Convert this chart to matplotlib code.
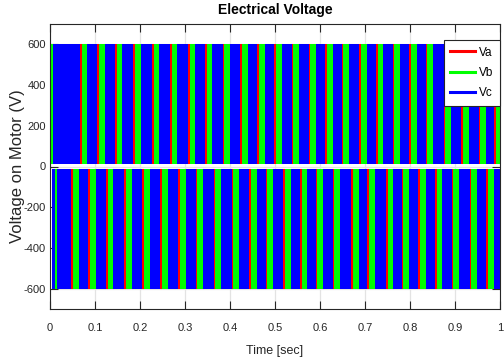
import numpy as np
import matplotlib
matplotlib.use("Agg")
import matplotlib.pyplot as plt
from matplotlib.lines import Line2D

# ── Data ──────────────────────────────────────────────────────────────────────
t_range = (0.0, 1.0)          # simulated time span [sec]
v_peak = 600                  # inverter voltage level [V]
v_gap = 10                    # band starts just off zero

# start times of the green (Vb) stripes seen in the positive band
top_vb_start = [0.000, 0.070, 0.109, 0.148, 0.189, 0.230, 0.270, 0.310, 0.348,
                0.387, 0.426, 0.464, 0.502, 0.541, 0.578, 0.615, 0.652, 0.691,
                0.728, 0.765, 0.802, 0.838, 0.878, 0.917, 0.956, 0.991]
top_vb_width = [0.006] + [0.013] * 25

# start times of the green (Vb) stripes seen in the negative band
bot_vb_start = [0.011, 0.051, 0.089, 0.128, 0.169, 0.209, 0.249, 0.289, 0.327,
                0.367, 0.407, 0.446, 0.483, 0.522, 0.559, 0.594, 0.632, 0.673,
                0.709, 0.750, 0.785, 0.822, 0.859, 0.896, 0.936, 0.973]
bot_vb_width = [0.004] + [0.013] * 25
bot_t0 = 0.004                # negative band begins slightly after t=0

labels = ["Va", "Vb", "Vc"]
colors = ["#ff0000", "#00ff00", "#0000ff"]
red_w = 0.0035

xticks = np.round(np.arange(0, 1.01, 0.1), 1)
yticks = np.arange(-600, 601, 200)

FONT = ["Liberation Sans Narrow", "Liberation Sans", "DejaVu Sans"]
INK = "#262626"

fig = plt.figure(figsize=(5.04, 3.64), dpi=100, facecolor="white")
ax = fig.add_axes([50 / 504, 1 - 309 / 364, 450 / 504, 285 / 364])

# Vc (blue) fills both bands
ax.broken_barh([(t_range[0], t_range[1] - t_range[0])], (v_gap, v_peak - v_gap),
               facecolors=colors[2], zorder=2)
ax.broken_barh([(bot_t0, t_range[1] - bot_t0)], (-v_peak, v_peak - v_gap),
               facecolors=colors[2], zorder=2)

# Vb (green) stripes
ax.broken_barh(list(zip(top_vb_start, top_vb_width)), (v_gap, v_peak - v_gap),
               facecolors=colors[1], zorder=3)
ax.broken_barh(list(zip(bot_vb_start, bot_vb_width)), (-v_peak, v_peak - v_gap),
               facecolors=colors[1], zorder=3)

# Va (red) edges just before each green stripe
ax.broken_barh([(s - red_w, red_w) for s in top_vb_start[1:]], (v_gap, v_peak - v_gap),
               facecolors=colors[0], zorder=3)
ax.broken_barh([(s - red_w, red_w) for s in bot_vb_start[1:]], (-v_peak, v_peak - v_gap),
               facecolors=colors[0], zorder=3)

ax.set_xlim(*t_range)
ax.set_ylim(-700, 700)
ax.set_xticks(xticks)
ax.set_xticklabels([f"{v:g}" for v in xticks])
ax.set_yticks(yticks)
ax.set_yticklabels([f"{v:d}" for v in yticks])
ax.grid(True, color="#e3e3e3", lw=0.9, zorder=1)
ax.set_axisbelow(True)

ax.tick_params(direction="in", length=6, width=0.8, colors=INK,
               top=True, right=True, labelsize=8)
ax.tick_params(axis="x", pad=10)
ax.tick_params(axis="y", pad=3)
for lab in ax.get_xticklabels() + ax.get_yticklabels():
    lab.set_family(FONT)
for sp in ax.spines.values():
    sp.set_color(INK)
    sp.set_linewidth(0.8)
    sp.set_zorder(5)

ax.set_title("Electrical Voltage", fontsize=10, fontweight="bold",
             family=FONT, color="black", pad=7)
ax.set_xlabel("Time [sec]", fontsize=9, family=FONT, color=INK)
ax.xaxis.set_label_coords(0.5, -0.125)
ax.set_ylabel("Voltage on Motor (V)", fontsize=12, family="Liberation Sans", color=INK)
ax.yaxis.set_label_coords(-0.056, 0.5)

handles = [Line2D([], [], color=c, lw=2.2) for c in colors]
leg = ax.legend(handles, labels, loc="upper right", bbox_to_anchor=(1.0, 0.945),
                borderaxespad=0, fancybox=False, framealpha=1, edgecolor=INK,
                handlelength=2.1, handletextpad=0.3, labelspacing=0.7,
                borderpad=0.58, prop={"family": FONT, "size": 8.5})
leg.get_frame().set_linewidth(0.8)
leg.set_zorder(6)

fig.savefig("out.png", dpi=100, facecolor="white")
